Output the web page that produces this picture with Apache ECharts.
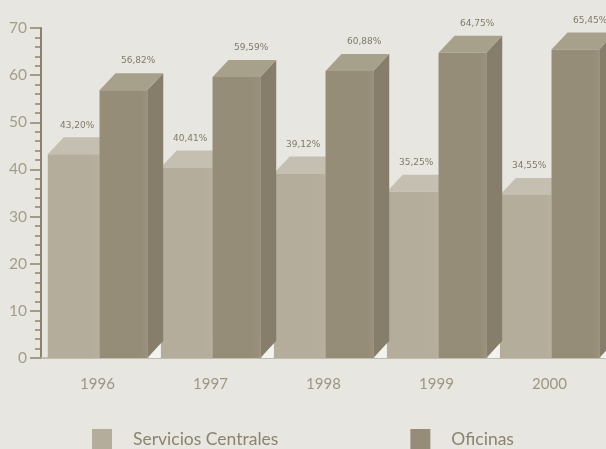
<!DOCTYPE html>
<html>
<head>
<meta charset="utf-8">
<script src="https://cdn.jsdelivr.net/npm/echarts@6/dist/echarts.min.js"></script>
<style>
  html, body { margin: 0; padding: 0; background: #e8e6e1; }
  #chart { width: 606px; height: 449px; }
</style>
</head>
<body>
<div id="chart"></div>
<script>
// values
const years = ['1996', '1997', '1998', '1999', '2000'];
const serviciosCentrales = [43.20, 40.41, 39.12, 35.25, 34.55];
const oficinas = [56.82, 59.59, 60.88, 64.75, 65.45];
const seriesNames = ['Servicios Centrales', 'Oficinas'];

const faces = {
  sc: { front: '#b4ad9b', top: '#c5bfb1', side: '#a49d8a' },
  of: { front: '#968d78', top: '#a7a08b', side: '#867e6a' }
};

const fmt = v => v.toFixed(2).replace('.', ',') + '%';

// draws a 3d box for one bar, plus its value label
function makeRender(kind) {
  const col = faces[kind];
  return function (params, api) {
    const idx = api.value(0);
    const val = api.value(1);
    const top = api.coord([idx, val]);
    const base = api.coord([idx, 0]);
    const bw = api.size([1, 0])[0];
    const c = top[0];
    let x0, x1, lx;
    if (kind === 'sc') {
      x0 = c - 0.44 * bw; x1 = c + 0.018 * bw; lx = c - 0.18 * bw;
    } else {
      x0 = c + 0.018 * bw; x1 = c + 0.44 * bw; lx = c + 0.36 * bw;
    }
    const dx = 16, dy = 17;
    const yt = top[1], yb = base[1];
    const children = [
      {
        type: 'polygon',
        shape: { points: [[x1, yt], [x1 + dx, yt - dy], [x1 + dx, yb - dy], [x1, yb]] },
        style: { fill: col.side }
      },
      {
        type: 'polygon',
        shape: { points: [[x0, yt], [x0 + dx, yt - dy], [x1 + dx, yt - dy], [x1, yt]] },
        style: { fill: col.top }
      },
      {
        type: 'rect',
        shape: { x: x0, y: yt, width: x1 - x0, height: yb - yt },
        style: {
          fill: new echarts.graphic.LinearGradient(0, 0, 1, 0, [
            { offset: 0, color: col.front },
            { offset: 0.85, color: col.front },
            { offset: 1, color: echarts.color.lift(col.front, 0.04) }
          ])
        }
      },
      {
        type: 'text',
        style: {
          text: fmt(val),
          x: lx,
          y: yt - dy - 12,
          align: 'center',
          verticalAlign: 'middle',
          fill: '#7f7a67',
          font: '9px "DejaVu Sans"'
        }
      }
    ];
    if (kind === 'of') {
      // light floor triangle under the side face, stopping at the next bar
      const xr = Math.min(x1 + dx, c + bw - 0.44 * bw);
      children.push({
        type: 'polygon',
        shape: { points: [[x1 + 1, yb], [xr, yb - dy * (xr - x1) / dx], [xr, yb]] },
        style: { fill: '#f4f2ee' }
      });
    }
    return { type: 'group', children: children };
  };
}

const chart = echarts.init(document.getElementById('chart'));
chart.setOption({
  backgroundColor: '#e8e6e1',
  animation: false,
  grid: { left: 41, right: -2.5, top: 28, bottom: 91 },
  legend: {
    left: 92,
    top: 429,
    padding: 0,
    itemWidth: 20,
    itemHeight: 20,
    itemGap: 132,
    textStyle: {
      color: '#8a846f',
      fontFamily: 'Lato',
      fontSize: 17.5,
      padding: [2, 0, 0, 16]
    },
    data: [
      { name: seriesNames[0], icon: 'rect', itemStyle: { color: faces.sc.front } },
      { name: seriesNames[1], icon: 'rect', itemStyle: { color: faces.of.front } }
    ]
  },
  xAxis: {
    type: 'category',
    data: years,
    boundaryGap: true,
    axisLine: { lineStyle: { color: '#c2bcab', width: 2 } },
    axisTick: { length: 12, lineStyle: { color: '#8a846f', width: 2 } },
    axisLabel: { color: '#9d9683', fontFamily: 'Lato', fontSize: 15, margin: 19 }
  },
  yAxis: {
    type: 'value',
    min: 0,
    max: 70,
    interval: 10,
    splitLine: { show: false },
    axisLine: { show: true, lineStyle: { color: '#8a846f', width: 2 } },
    axisTick: { show: true, length: 11, lineStyle: { color: '#8a846f', width: 1.5 } },
    minorTick: { show: true, splitNumber: 5, length: 6, lineStyle: { color: '#8a846f', width: 1.5 } },
    axisLabel: { color: '#a49d89', fontFamily: 'Lato', fontSize: 15.5, margin: 14 }
  },
  series: [
    {
      name: seriesNames[0],
      type: 'custom',
      renderItem: makeRender('sc'),
      itemStyle: { color: faces.sc.front },
      encode: { x: 0, y: 1 },
      data: serviciosCentrales.map((v, i) => [i, v]),
      z: 2
    },
    {
      name: seriesNames[1],
      type: 'custom',
      renderItem: makeRender('of'),
      itemStyle: { color: faces.of.front },
      encode: { x: 0, y: 1 },
      data: oficinas.map((v, i) => [i, v]),
      z: 3
    }
  ]
});
</script>
</body>
</html>
